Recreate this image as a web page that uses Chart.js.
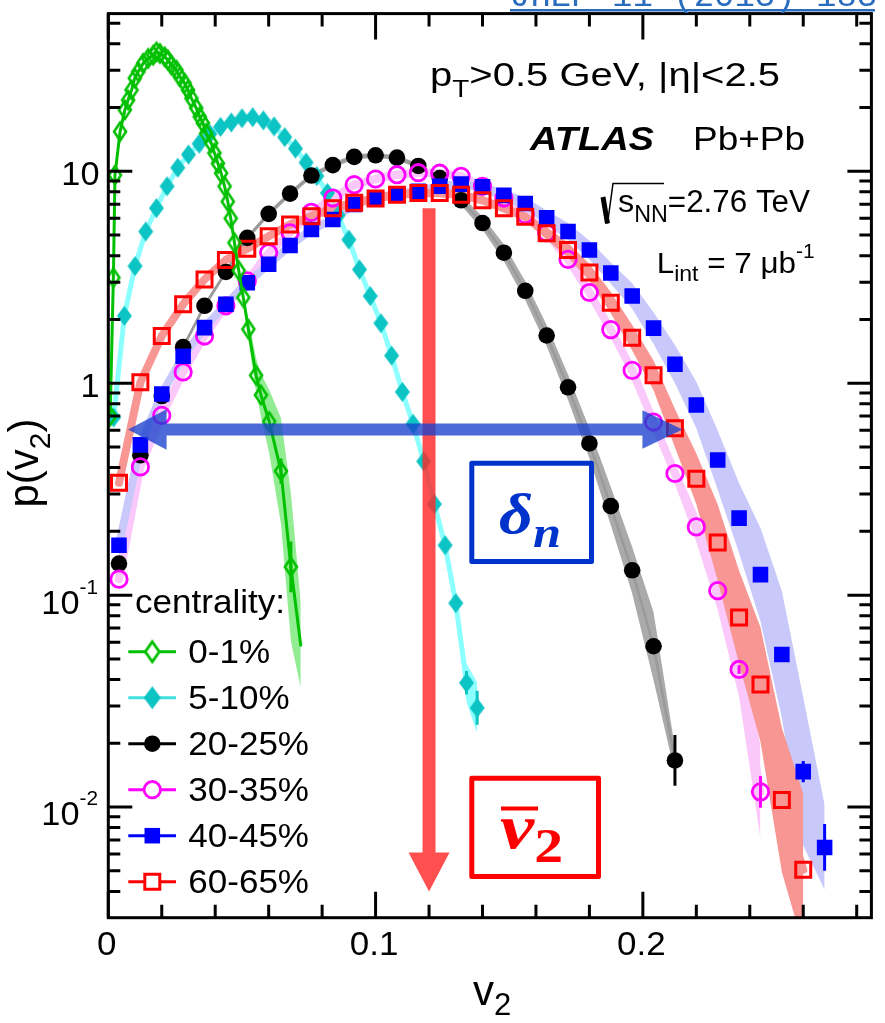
<!DOCTYPE html>
<html>
<head>
<meta charset="utf-8">
<title>p(v2) distributions - ATLAS Pb+Pb</title>
<script src="https://cdn.jsdelivr.net/npm/chart.js@4.4.1/dist/chart.umd.min.js"></script>
<style>
html,body{margin:0;padding:0;background:#ffffff;}
canvas{display:block;}
</style>
</head>
<body>
<canvas id="chart" width="885" height="1023"></canvas>
<script>
// ================= DATA =================
const v2Bins = [0.004,0.012,0.020,0.028,0.036,0.044,0.052,0.060,0.068,0.076,0.084,0.092,0.100,0.108,0.116,0.124,0.132,0.140,0.148,0.156,0.164,0.172,0.180,0.188,0.196,0.204,0.212,0.220,0.228,0.236,0.244,0.252,0.260,0.268];
const cyanBins = [0.002,0.006,0.010,0.014,0.018,0.022,0.026,0.030,0.034,0.038,0.042,0.046,0.050,0.054,0.058,0.062,0.066,0.070,0.074,0.078,0.082,0.086,0.090,0.094,0.098,0.102,0.106,0.110,0.114,0.118,0.122,0.126,0.130,0.134,0.138];
const greenBins = [0.0007,0.0019,0.0025,0.0044,0.0062,0.0074,0.0087,0.0099,0.0112,0.0130,0.0149,0.0168,0.0180,0.0193,0.0211,0.0223,0.0236,0.0255,0.0267,0.0286,0.0298,0.0311,0.0329,0.0342,0.0354,0.0366,0.0385,0.0397,0.0410,0.0422,0.0435,0.0447,0.0458,0.0472,0.0488,0.0505,0.0524,0.0553,0.0571,0.0602,0.0646,0.0683,0.0720];

// p(v2) values per centrality class
const p_0_1   = [0.70,3.15,9.6,15.4,19.5,21.7,24.2,27.5,29.5,32.3,34.1,35.3,36.6,36.0,34.7,33.5,31.7,30.0,28.0,26.0,24.2,22.1,19.9,18.1,16.9,15.1,13.6,12.2,10.9,9.8,8.5,7.2,6.0,4.6,3.4,2.54,1.80,1.09,0.88,0.66,0.385,0.136,0.058];
const p_5_10  = [0.69,2.08,3.57,5.2,6.7,8.5,10.4,12.0,13.5,15.0,16.2,17.0,17.8,18.0,17.4,16.3,14.5,12.8,11.0,9.5,7.9,6.2,4.76,3.44,2.58,1.92,1.35,0.91,0.644,0.428,0.269,0.172,0.0917,0.0386,0.0294];
const p_20_25 = [0.141,0.457,0.87,1.48,2.32,3.35,4.85,6.30,7.85,9.55,10.7,11.7,11.9,11.6,10.6,9.3,7.3,5.7,4.13,2.73,1.68,0.957,0.52,0.263,0.131,0.0574,0.0166];
const p_30_35 = [0.119,0.403,0.705,1.13,1.67,2.32,3.04,4.13,5.13,6.4,7.48,8.65,9.2,9.64,9.85,9.8,9.47,8.5,7.48,6.25,5.13,3.84,2.68,1.79,1.15,0.656,0.375,0.21,0.105,0.0446,0.0118];
const p_40_45 = [0.172,0.512,0.89,1.34,1.83,2.36,2.98,3.64,4.47,5.31,5.92,6.97,7.5,7.8,8.05,8.5,8.7,8.45,7.7,7.05,6.03,5.2,4.25,3.31,2.58,1.82,1.23,0.79,0.434,0.231,0.125,0.0525,0.0147,0.00645];
const p_60_65 = [0.339,1.01,1.67,2.36,3.09,3.82,4.31,4.94,5.61,6.14,6.7,7.1,7.45,7.76,7.9,7.9,7.76,7.3,6.7,6.1,5.1,4.25,3.33,2.40,1.64,1.09,0.614,0.354,0.177,0.0785,0.0379,0.0108,0.00506];

// systematic band half-widths (log10 units)
const sys_0_1   = [0.01,0.01,0.01,0.01,0.01,0.01,0.01,0.01,0.01,0.01,0.01,0.01,0.01,0.01,0.01,0.01,0.01,0.01,0.01,0.01,0.01,0.01,0.01,0.01,0.01,0.01,0.01,0.01,0.01,0.01,0.01,0.01,0.01,0.01,0.01,0.01,0.05,0.08,0.10,0.15,0.25,0.35,0.20];
const sys_5_10  = [0.012,0.012,0.012,0.012,0.012,0.012,0.012,0.012,0.012,0.012,0.012,0.012,0.012,0.012,0.012,0.012,0.012,0.012,0.012,0.012,0.012,0.012,0.012,0.012,0.012,0.012,0.012,0.012,0.012,0.012,0.012,0.03,0.05,0.09,0.12];
const sys_20_25 = [0.012,0.012,0.012,0.012,0.012,0.012,0.012,0.012,0.012,0.012,0.012,0.012,0.012,0.012,0.012,0.012,0.025,0.03,0.04,0.045,0.05,0.06,0.07,0.09,0.11,0.16,0.06];
const sys_30_35 = [0.02,0.02,0.02,0.02,0.02,0.02,0.02,0.02,0.02,0.02,0.02,0.02,0.02,0.02,0.02,0.02,0.02,0.02,0.02,0.02,0.02,0.02,0.025,0.03,0.03,0.04,0.05,0.07,0.09,0.13,0.22];
const sys_40_45 = [0.02,0.02,0.02,0.02,0.02,0.02,0.02,0.02,0.02,0.02,0.02,0.02,0.02,0.02,0.02,0.02,0.02,0.02,0.025,0.03,0.035,0.04,0.045,0.05,0.06,0.075,0.09,0.11,0.14,0.165,0.22,0.30,0.35,0.20];
const sys_60_65 = [0.02,0.02,0.02,0.02,0.02,0.02,0.02,0.02,0.02,0.02,0.02,0.02,0.02,0.02,0.02,0.02,0.02,0.02,0.02,0.02,0.03,0.035,0.04,0.05,0.06,0.07,0.09,0.12,0.18,0.22,0.27,0.34,0.36];

// statistical error bars: [point index, half-width in log10]
const err_0_1   = [[40,0.06],[41,0.12]];
const err_5_10  = [[33,0.055],[34,0.08]];
const err_20_25 = [[25,0.02],[26,0.12]];
const err_30_35 = [[29,0.02],[30,0.075]];
const err_40_45 = [[31,0.03],[32,0.05],[33,0.11]];
const err_60_65 = [];

// axes
const xMajorTicks = [0, 0.1, 0.2];
const xTickLabels = ['0', '0.1', '0.2'];
const xMinorTicks = [0.02,0.04,0.06,0.08,0.12,0.14,0.16,0.18,0.22,0.24,0.26,0.28];
const yMajorTicks = [0.01, 0.1, 1, 10];
const yTickLabels = [['10','-2'], ['10','-1'], ['1',''], ['10','']];
const yMinorTicks = [0.004,0.005,0.006,0.007,0.008,0.009,0.02,0.03,0.04,0.05,0.06,0.07,0.08,0.09,0.2,0.3,0.4,0.5,0.6,0.7,0.8,0.9,2,3,4,5,6,7,8,9,20,30,40,50];
const legendLabels = ['0-1%', '5-10%', '20-25%', '30-35%', '40-45%', '60-65%'];

// annotations (data coordinates)
const meanV2 = 0.12;          // red arrow position
const meanArrowTop = 6.7, meanArrowTip = 0.0040;
const deltaArrowY = 0.605, deltaArrowX0 = 0.0074, deltaArrowX1 = 0.2148;

// ================= STYLE =================
function diamondCanvas(w, h, fill, stroke, lw) {
  const pad = (lw || 0) + 1;
  const c = document.createElement('canvas');
  c.width = Math.ceil(w + 2 * pad); c.height = Math.ceil(h + 2 * pad);
  const g = c.getContext('2d');
  const cx = c.width / 2, cy = c.height / 2;
  g.beginPath();
  g.moveTo(cx, cy - h / 2); g.lineTo(cx + w / 2, cy); g.lineTo(cx, cy + h / 2); g.lineTo(cx - w / 2, cy); g.closePath();
  if (fill) { g.fillStyle = fill; g.fill(); }
  if (stroke) { g.lineWidth = lw; g.strokeStyle = stroke; g.lineJoin = 'miter'; g.stroke(); }
  return c;
}
const greenDia = diamondCanvas(12, 18, null, '#00c000', 2.6);
const cyanDia = diamondCanvas(15, 20, '#0cc4c4', null, 0);
const greenDiaLeg = diamondCanvas(14, 20, '#ffffff', '#00c000', 2.8);
const cyanDiaLeg = diamondCanvas(17, 23, '#0cc4c4', null, 0);

const SERIES = [
  {label: legendLabels[0], xs: greenBins, ys: p_0_1,   sys: sys_0_1,   err: err_0_1,   color: '#00c000', line: '#00c000', lineW: 3,   band: 'rgba(110,230,110,0.75)', legendLine: '#00c000',
   mk: {img: greenDia, r: 7}, legMk: {img: greenDiaLeg}},
  {label: legendLabels[1], xs: cyanBins,  ys: p_5_10,  sys: sys_5_10,  err: err_5_10,  color: '#0cc4c4', line: '#8cffff', lineW: 5,   band: '#8cffff', legendLine: '#40e0e0',
   mk: {img: cyanDia, r: 7}, legMk: {img: cyanDiaLeg}},
  {label: legendLabels[2], xs: v2Bins,    ys: p_20_25, sys: sys_20_25, err: err_20_25, color: '#000000', line: '#9a9a9a', lineW: 2.5, band: '#aaaaaa', legendLine: '#000000',
   mk: {style: 'circle', r: 8.3, fill: '#000000', stroke: '#000000', bw: 0}},
  {label: legendLabels[3], xs: v2Bins,    ys: p_30_35, sys: sys_30_35, err: err_30_35, color: '#ff00ff', line: '#fbc8fb', lineW: 8,   band: '#fbc8fb', legendLine: '#ff00ff',
   mk: {style: 'circle', r: 8.2, fill: 'rgba(0,0,0,0)', stroke: '#ff00ff', bw: 2.8}},
  {label: legendLabels[4], xs: v2Bins,    ys: p_40_45, sys: sys_40_45, err: err_40_45, color: '#0000ff', line: '#c8c8fb', lineW: 8,   band: '#c8c8fb', legendLine: '#0000ff',
   mk: {style: 'rect', r: 11, fill: '#0000ff', stroke: '#0000ff', bw: 0}},
  {label: legendLabels[5], xs: v2Bins,    ys: p_60_65, sys: sys_60_65, err: err_60_65, color: '#ff0000', line: '#f89694', lineW: 8,   band: '#f89694', legendLine: '#ff0000',
   mk: {style: 'rect', r: 10.6, fill: 'rgba(0,0,0,0)', stroke: '#ff0000', bw: 3}}
];

// ================= DATASETS =================
const datasets = [];
let rank = 0;
function pts(s) { return s.ys.map((y, i) => ({x: s.xs[i], y: y})); }
function addBand(s) {
  const up = s.ys.map((y, i) => ({x: s.xs[i], y: y * Math.pow(10, s.sys[i])}));
  const lo = s.ys.map((y, i) => ({x: s.xs[i], y: y / Math.pow(10, s.sys[i])}));
  datasets.push({data: up, showLine: true, borderWidth: 0, borderColor: 'rgba(0,0,0,0)', pointRadius: 0, fill: '+1', backgroundColor: s.band, order: -(rank++)});
  datasets.push({data: lo, showLine: true, borderWidth: 0, borderColor: 'rgba(0,0,0,0)', pointRadius: 0, fill: false, order: -(rank++)});
}
function addLine(s) {
  datasets.push({data: pts(s), showLine: true, borderColor: s.line, borderWidth: s.lineW, pointRadius: 0, fill: false,
    borderJoinStyle: 'round', borderCapStyle: 'round', order: -(rank++)});
}
function addMarkers(s, hideLast) {
  const n = s.ys.length;
  const m = s.mk;
  datasets.push({
    data: pts(s), showLine: false, fill: false,
    pointStyle: m.img ? m.img : m.style,
    pointRadius: hideLast ? (ctx => ctx.dataIndex === n - 1 ? 0 : m.r) : m.r,
    pointBackgroundColor: m.fill || 'rgba(0,0,0,0)',
    pointBorderColor: m.stroke || 'rgba(0,0,0,0)',
    pointBorderWidth: m.bw || 0,
    errBars: s.err, errColor: s.color,
    order: -(rank++)
  });
}
// background layer: black, cyan, magenta, blue, red bands + lines
[2, 1, 3, 4, 5].forEach(i => { addBand(SERIES[i]); addLine(SERIES[i]); });
// markers
[1, 2, 3, 4, 5].forEach(i => addMarkers(SERIES[i], false));
// green on top
addBand(SERIES[0]); addLine(SERIES[0]); addMarkers(SERIES[0], true);

// ================= DRAW HELPERS =================
const F = (s, st) => `${st ? st + ' ' : ''}${s}px "Liberation Sans", Arial, sans-serif`;
const SER = (s, st) => `${st ? st + ' ' : ''}${s}px "Liberation Serif", "DejaVu Serif", serif`;

function runs(ctx, parts, x, y, opt) {
  opt = opt || {};
  let w = 0;
  const ws = parts.map(p => { ctx.font = p[1]; const m = ctx.measureText(p[0]).width; w += m; return m; });
  const sx = opt.width ? opt.width / w : (opt.sx || 1);
  let x0 = x;
  if (opt.align === 'center') x0 = x - w * sx / 2;
  else if (opt.align === 'right') x0 = x - w * sx;
  ctx.save();
  ctx.translate(x0, y); ctx.scale(sx, 1);
  ctx.fillStyle = opt.color || '#000';
  ctx.textBaseline = 'alphabetic'; ctx.textAlign = 'left';
  let cx = 0;
  parts.forEach((p, i) => { ctx.font = p[1]; ctx.fillText(p[0], cx, p[2] || 0); cx += ws[i]; });
  ctx.restore();
  return w * sx;
}
function drawMarker(ctx, m, x, y) {
  if (m.img) { ctx.drawImage(m.img, x - m.img.width / 2, y - m.img.height / 2); return; }
  ctx.beginPath();
  if (m.style === 'circle') ctx.arc(x, y, m.r, 0, 2 * Math.PI);
  else { const s = m.r * Math.SQRT1_2; ctx.rect(x - s, y - s, 2 * s, 2 * s); }
  if (m.fill) { ctx.fillStyle = m.fill; ctx.fill(); }
  if (m.bw) { ctx.lineWidth = m.bw; ctx.strokeStyle = m.stroke; ctx.stroke(); }
}

const overlay = {
  id: 'overlay',
  beforeDraw(chart) {
    const c = chart.ctx; c.save(); c.fillStyle = '#ffffff'; c.fillRect(0, 0, chart.width, chart.height); c.restore();
  },
  beforeDatasetDraw(chart, args) {
    const ds = chart.data.datasets[args.index];
    if (!ds.errBars || !ds.errBars.length) return;
    const ctx = chart.ctx, a = chart.chartArea, xs = chart.scales.x, ys = chart.scales.y;
    ctx.save();
    ctx.beginPath(); ctx.rect(a.left, a.top, a.right - a.left, a.bottom - a.top); ctx.clip();
    ctx.strokeStyle = ds.errColor; ctx.lineWidth = 3;
    ds.errBars.forEach(([i, e]) => {
      const p = ds.data[i]; const px = xs.getPixelForValue(p.x);
      ctx.beginPath();
      ctx.moveTo(px, ys.getPixelForValue(p.y * Math.pow(10, e)));
      ctx.lineTo(px, ys.getPixelForValue(p.y / Math.pow(10, e)));
      ctx.stroke();
    });
    ctx.restore();
  },
  afterDatasetsDraw(chart) {
    const ctx = chart.ctx, xs = chart.scales.x, ys = chart.scales.y;
    // red vertical arrow (mean v2)
    const ax = xs.getPixelForValue(meanV2);
    const aTop = ys.getPixelForValue(meanArrowTop), aTip = ys.getPixelForValue(meanArrowTip);
    const hb = aTip - 39;
    ctx.save();
    ctx.fillStyle = 'rgba(255,40,40,0.82)';
    ctx.beginPath();
    ctx.moveTo(ax - 6.5, aTop); ctx.lineTo(ax + 6.5, aTop); ctx.lineTo(ax + 6.5, hb); ctx.lineTo(ax + 20.5, hb);
    ctx.lineTo(ax, aTip); ctx.lineTo(ax - 20.5, hb); ctx.lineTo(ax - 6.5, hb); ctx.closePath(); ctx.fill();
    // blue double arrow (width)
    const by = ys.getPixelForValue(deltaArrowY);
    const l = xs.getPixelForValue(deltaArrowX0), r = xs.getPixelForValue(deltaArrowX1);
    ctx.fillStyle = 'rgba(25,65,205,0.78)';
    ctx.beginPath();
    ctx.moveTo(l, by); ctx.lineTo(l + 38.5, by - 20.3); ctx.lineTo(l + 38.5, by - 6); ctx.lineTo(r - 40, by - 6);
    ctx.lineTo(r - 40, by - 19.2); ctx.lineTo(r, by); ctx.lineTo(r - 40, by + 19.2); ctx.lineTo(r - 40, by + 6);
    ctx.lineTo(l + 38.5, by + 6); ctx.lineTo(l + 38.5, by + 20.3); ctx.closePath(); ctx.fill();
    ctx.restore();

    // boxes
    ctx.save();
    ctx.lineJoin = 'round';
    ctx.lineWidth = 5; ctx.strokeStyle = '#0033cc';
    ctx.strokeRect(471.8, 463.2, 119.7, 98.3);
    runs(ctx, [['\u03b4', SER(58, 'italic bold')], ['n', SER(44, 'italic bold'), 14]], 499, 533, {width: 62, color: '#0033cc'});
    ctx.strokeStyle = '#ff0000';
    ctx.strokeRect(471.8, 778.2, 126.7, 98.3);
    runs(ctx, [['v', SER(64, 'italic bold')], ['2', SER(48, 'bold'), 13.5]], 500, 848, {width: 63, color: '#ff0000'});
    ctx.fillStyle = '#ff0000';
    ctx.fillRect(501, 806.5, 37, 4);
    ctx.restore();
  },
  afterDraw(chart) {
    const ctx = chart.ctx, a = chart.chartArea, xs = chart.scales.x, ys = chart.scales.y;
    ctx.save();
    // ---- texts in plot ----
    runs(ctx, [['p', F(33)], ['T', F(23), 11], ['>0.5 GeV, |\u03b7|<2.5', F(33)]], 430, 86, {width: 350});
    runs(ctx, [['ATLAS', F(33, 'italic bold')]], 530, 150, {width: 124});
    runs(ctx, [['Pb+Pb', F(33)]], 693, 150, {width: 112});
    // sqrt sign
    ctx.strokeStyle = '#000';
    ctx.lineCap = 'butt';
    ctx.lineWidth = 5; ctx.beginPath(); ctx.moveTo(603, 197); ctx.lineTo(607.5, 223.5); ctx.stroke();
    ctx.lineWidth = 1.5; ctx.beginPath(); ctx.moveTo(607.5, 223.5); ctx.lineTo(613, 183.5); ctx.lineTo(664, 183.5); ctx.stroke();
    runs(ctx, [['s', F(32)], ['NN', F(23), 10], ['=2.76 TeV', F(31)]], 618, 212, {width: 192});
    runs(ctx, [['L', F(30)], ['int', F(22), 8], [' = 7 \u03bcb', F(30)], ['-1', F(20), -15]], 656.7, 273.3, {width: 158});

    // ---- legend ----
    runs(ctx, [['centrality:', F(33)]], 135, 613, {width: 150});
    SERIES.forEach((s, i) => {
      const yc = 651.7 + i * 46;
      ctx.strokeStyle = s.legendLine; ctx.lineWidth = 3;
      ctx.beginPath(); ctx.moveTo(128.3, yc); ctx.lineTo(176, yc); ctx.stroke();
      const m = Object.assign({}, s.legMk || s.mk);
      if (!m.img && m.fill === 'rgba(0,0,0,0)') m.fill = '#ffffff';
      drawMarker(ctx, m, 152.3, yc);
      runs(ctx, [[s.label, F(34)]], 188.3, yc + 11.5, {sx: 1.03});
    });

    // ---- frame & ticks ----
    ctx.strokeStyle = '#000'; ctx.lineWidth = 3; ctx.lineCap = 'butt';
    ctx.strokeRect(a.left, a.top, a.right - a.left, a.bottom - a.top);
    ctx.beginPath();
    xMajorTicks.forEach(v => { const px = xs.getPixelForValue(v);
      ctx.moveTo(px, a.bottom); ctx.lineTo(px, a.bottom - 26); ctx.moveTo(px, a.top); ctx.lineTo(px, a.top + 26); });
    xMinorTicks.forEach(v => { const px = xs.getPixelForValue(v);
      ctx.moveTo(px, a.bottom); ctx.lineTo(px, a.bottom - 13); ctx.moveTo(px, a.top); ctx.lineTo(px, a.top + 13); });
    yMajorTicks.forEach(v => { const py = ys.getPixelForValue(v);
      ctx.moveTo(a.left, py); ctx.lineTo(a.left + 24, py); ctx.moveTo(a.right, py); ctx.lineTo(a.right - 24, py); });
    yMinorTicks.forEach(v => { const py = ys.getPixelForValue(v);
      ctx.moveTo(a.left, py); ctx.lineTo(a.left + 12, py); ctx.moveTo(a.right, py); ctx.lineTo(a.right - 12, py); });
    ctx.stroke();

    // ---- tick labels ----
    xMajorTicks.forEach((v, i) => {
      runs(ctx, [[xTickLabels[i], F(33)]], xs.getPixelForValue(v) - 1.5, 955, {align: 'center', sx: 1.06});
    });
    yMajorTicks.forEach((v, i) => {
      const py = ys.getPixelForValue(v);
      const [base, sup] = yTickLabels[i];
      if (sup) runs(ctx, [[base, F(33)], [sup, F(20), -20]], 98, py + 18.4, {align: 'right', sx: 1.04});
      else runs(ctx, [[base, F(33)]], 99.5, py + 13.8, {align: 'right', sx: 1.04});
    });

    // ---- axis titles ----
    runs(ctx, [['v', F(42)], ['2', F(31), 10]], 473, 1005);
    ctx.save();
    ctx.translate(38, 463); ctx.rotate(-Math.PI / 2);
    runs(ctx, [['p(v', F(42)], ['2', F(30), 12], [')', F(42)]], 0, 0, {align: 'center'});
    ctx.restore();

    // ---- journal reference (cut at top) ----
    ctx.fillStyle = '#2a6dbf';
    ctx.font = '34px "Liberation Mono", "DejaVu Sans Mono", monospace';
    ctx.textAlign = 'left'; ctx.textBaseline = 'alphabetic';
    ctx.fillText('JHEP 11 (2013) 183', 510, 6);
    ctx.fillRect(510, 9, 365, 2.5);
    ctx.restore();
  }
};

new Chart(document.getElementById('chart'), {
  type: 'line',
  data: {datasets: datasets},
  options: {
    responsive: false,
    animation: false,
    devicePixelRatio: 1,
    events: [],
    layout: {padding: {left: 108.3, right: 10, top: 10, bottom: 105.3}},
    plugins: {legend: {display: false}, tooltip: {enabled: false}, title: {display: false}},
    elements: {line: {tension: 0}},
    scales: {
      x: {type: 'linear', min: 0, max: 0.2855, display: false},
      y: {type: 'logarithmic', min: 0.003006, max: 55.5, display: false}
    }
  },
  plugins: [overlay]
});
</script>
</body>
</html>
